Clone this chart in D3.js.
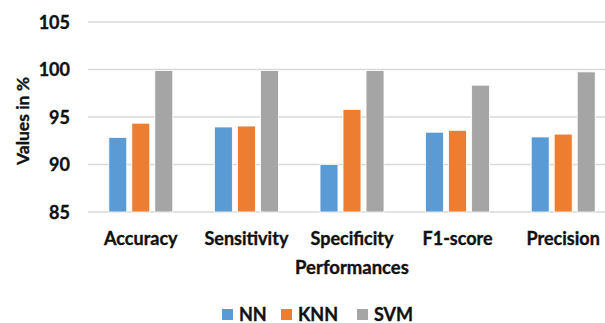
<!DOCTYPE html>
<html>
<head>
<meta charset="utf-8">
<script src="https://cdn.jsdelivr.net/npm/d3@7"></script>
<style>
  html, body { margin: 0; padding: 0; background: #fff; }
  svg text { font-family: Lato, "Open Sans", sans-serif; font-weight: bold; fill: #111; stroke: #111; stroke-width: 0.35px; }
</style>
</head>
<body>
<svg id="chart" width="605" height="323"></svg>
<script>
// Performance metrics per classifier (%)
const categories = ["Accuracy", "Sensitivity", "Specificity", "F1-score", "Precision"];
const seriesNames = ["NN", "KNN", "SVM"];
const nnValues  = [92.85, 93.95, 90.0, 93.4, 92.9];
const knnValues = [94.35, 94.05, 95.8, 93.6, 93.2];
const svmValues = [99.9, 99.9, 99.9, 98.35, 99.75];
const yTicks = [85, 90, 95, 100, 105];
const colors = ["#5B9BD5", "#ED7D31", "#A5A5A5"];

const series = [nnValues, knnValues, svmValues];
const svg = d3.select("#chart");

const x0 = d3.scaleBand().domain(categories).range([88, 616]).paddingInner(0).paddingOuter(0);
const x1 = d3.scaleBand().domain(seriesNames).range([0, x0.bandwidth()]).paddingInner(0.22).paddingOuter(0.905);
const y = d3.scaleLinear().domain([85, 105]).range([212, 22]);

// Horizontal gridlines
svg.append("g")
  .selectAll("line")
  .data(yTicks)
  .join("line")
  .attr("x1", 88).attr("x2", 605)
  .attr("y1", d => y(d)).attr("y2", d => y(d))
  .attr("stroke", "#D9D9D9").attr("stroke-width", 1.3);

// Y axis tick labels
const yAxis = d3.axisLeft(y).tickValues(yTicks).tickSize(0).tickPadding(0);
const yg = svg.append("g").attr("transform", "translate(70,0)").call(yAxis);
yg.select(".domain").remove();
yg.selectAll("text").attr("font-size", 18).attr("dy", "0.35em")
  .style("font-family", "Lato, sans-serif").style("font-weight", "bold").attr("fill", "#111");

// Bars
const groups = svg.append("g")
  .selectAll("g")
  .data(categories)
  .join("g")
  .attr("transform", d => `translate(${x0(d)},0)`);

groups.selectAll("rect")
  .data((c, i) => seriesNames.map((s, k) => ({ s, k, v: series[k][i] })))
  .join("rect")
  .attr("x", d => x1(d.s))
  .attr("width", x1.bandwidth())
  .attr("y", d => y(d.v))
  .attr("height", d => y(85) - y(d.v))
  .attr("fill", d => colors[d.k])
  .attr("stroke", "#fff").attr("stroke-width", 0.8);

// Category labels
const xAxis = d3.axisBottom(x0).tickSize(0).tickPadding(0);
const xg = svg.append("g").attr("transform", "translate(0,245)").call(xAxis);
xg.select(".domain").remove();
xg.selectAll("text").attr("dy", 0).attr("font-size", 18)
  .style("font-family", "Lato, sans-serif").style("font-weight", "bold").attr("fill", "#111");

// Axis titles
svg.append("text")
  .attr("x", 352).attr("y", 274)
  .attr("text-anchor", "middle").attr("font-size", 18.5)
  .text("Performances");

svg.append("text")
  .attr("transform", "translate(29,121) rotate(-90)")
  .attr("text-anchor", "middle").attr("font-size", 17.5)
  .text("Values in %");

// Legend
const legendX = [222, 281, 357];
const legend = svg.append("g")
  .selectAll("g")
  .data(seriesNames)
  .join("g")
  .attr("transform", (d, i) => `translate(${legendX[i]},309)`);
legend.append("rect").attr("width", 11).attr("height", 11).attr("fill", (d, i) => colors[i]).attr("stroke", "none");
legend.append("text").attr("x", 17).attr("y", 11.5).attr("font-size", 18).text(d => d);
</script>
</body>
</html>
